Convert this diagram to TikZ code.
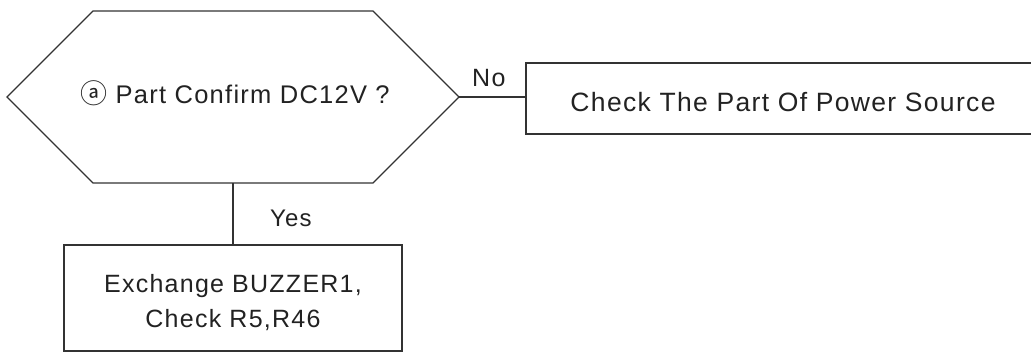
\documentclass[tikz,border=0pt]{standalone}
\usepackage{fontspec}
\setmainfont{Liberation Sans}[LetterSpace=5]
\newfontfamily\circfont{Noto Sans CJK KR}
\definecolor{linec}{HTML}{333333}
\definecolor{txtc}{HTML}{222222}
\tikzset{
  shapeline/.style={draw=linec, line width=1.1pt, line join=miter},
  conn/.style={draw=linec, line width=1.1pt},
  boxnode/.style={draw=linec, line width=1.1pt, rectangle, inner sep=0pt, text=txtc},
  lbl/.style={inner sep=0pt, text=txtc},
}
\begin{document}
\begin{tikzpicture}[x=1pt,y=-1pt]
\useasboundingbox (0,0) rectangle (1031,352);
% hexagon decision
\coordinate (hL)  at (7,97);
\coordinate (hTL) at (93,11);
\coordinate (hTR) at (373,11);
\coordinate (hR)  at (459,97);
\coordinate (hBR) at (373,183);
\coordinate (hBL) at (93,183);
\coordinate (hB)  at (233,183);
\draw[shapeline] (hL) -- (hTL) -- (hTR) -- (hR) -- (hBR) -- (hBL) -- cycle;
\node[lbl, anchor=base, font=\fontsize{25.5}{30}\selectfont] (q) at (235,104)
  {{\circfont\fontsize{27}{27}\selectfont ⓐ} Part Confirm DC12V ?};
% power source box
\node[boxnode, minimum width=514pt, minimum height=71pt, text height=27pt, text depth=0pt,
      font=\fontsize{26.5}{30}\selectfont] (pwr) at (783,98.5)
  {Check The Part Of Power Source};
% buzzer box
\node[boxnode, minimum width=338pt, minimum height=106pt] (fix) at (233,298) {};
\node[lbl, align=center, font=\fontsize{25}{35}\selectfont] (fixtxt) at (233,303)
  {Exchange BUZZER1,\\Check R5,R46};
% connectors
\draw[conn] (hR) -- (hR -| pwr.west);
\draw[conn] (hB) -- (fix.north);
\node[lbl, anchor=base west, font=\fontsize{25}{30}\selectfont] (no) at (472,87) {No};
\node[lbl, anchor=base west, font=\fontsize{24}{30}\selectfont] (yes) at (270,227) {Yes};
\end{tikzpicture}
\end{document}
